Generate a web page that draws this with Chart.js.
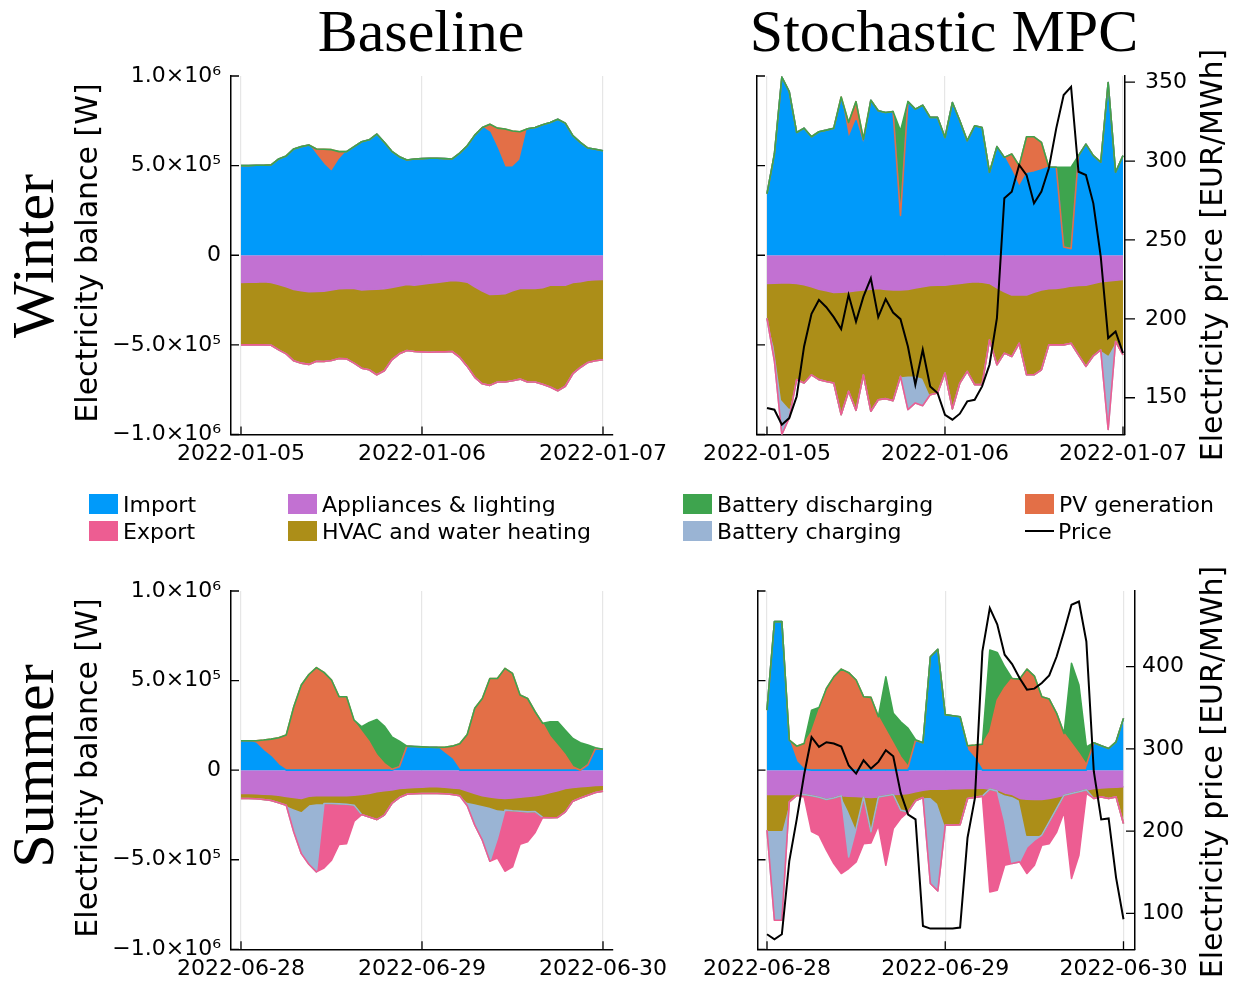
<!DOCTYPE html>
<html>
<head>
<meta charset="utf-8">
<script src="https://cdn.jsdelivr.net/npm/chart.js@4.4.1/dist/chart.umd.min.js"></script>
<style>
  body { margin: 0; width: 1238px; height: 987px; overflow: hidden; background: #fff; position: relative; font-family: "DejaVu Sans", sans-serif; color: #000; }
  canvas { position: absolute; }
  .title { position: absolute; top: 1px; font-family: "Liberation Serif", serif; font-size: 60px; line-height: 60px; white-space: nowrap; transform: translateX(-50%); }
  .row { position: absolute; font-family: "Liberation Serif", serif; font-size: 60px; line-height: 60px; white-space: nowrap; transform: translate(-50%, -50%) rotate(-90deg); }
  .axt { position: absolute; font-size: 30px; line-height: 30px; white-space: nowrap; transform: translate(-50%, -50%) rotate(-90deg); }
  .sw { position: absolute; width: 29px; height: 20px; }
  .lt { position: absolute; font-size: 22px; line-height: 22px; white-space: nowrap; }
</style>
</head>
<body>
<canvas id="wb"></canvas>
<canvas id="wm"></canvas>
<canvas id="sb"></canvas>
<canvas id="sm"></canvas>

<div class="title" style="left:421px">Baseline</div>
<div class="title" style="left:944px">Stochastic MPC</div>
<div class="row" style="left:33px; top:256px">Winter</div>
<div class="row" style="left:33px; top:766px">Summer</div>
<div class="axt" style="left:87px; top:253px">Electricity balance [W]</div>
<div class="axt" style="left:87px; top:768px">Electricity balance [W]</div>
<div class="axt" style="left:1212px; top:255px">Electricity price [EUR/MWh]</div>
<div class="axt" style="left:1212px; top:772px">Electricity price [EUR/MWh]</div>

<div id="legend"></div>

<script>
// x positions (hour of the 2-day window) and tick labels
const hours = Array.from({ length: 49 }, (_, i) => i);
const winterDates = ['2022-01-05', '2022-01-06', '2022-01-07'];
const summerDates = ['2022-06-28', '2022-06-29', '2022-06-30'];
const dateTickHours = [0, 24, 48];
const balanceTicks = [-1e6, -5e5, 0, 5e5, 1e6];
const balanceTickLabels = ['−1.0×10⁶', '−5.0×10⁵', '0', '5.0×10⁵', '1.0×10⁶'];
const winterPriceTicks = [150, 200, 250, 300, 350];
const summerPriceTicks = [100, 200, 300, 400];

// Winter, baseline (kW)
const wbImport = [500,500,502,502,504,537,554,593,606,615,559,506,465,531,578,606,633,644,676,630,580,550,531,537,539,541,541,539,537,570,611,670,713,685,594,491,491,531,706,713,728,741,759,737,667,630,598,591,583];
const wbPV = [0,0,0,0,0,0,0,0,0,0,34,85,124,47,0,0,0,0,0,0,0,0,0,0,0,0,0,0,0,0,0,0,0,46,115,213,202,158,0,0,0,0,0,0,0,0,0,0,0];
const wbDischarging = [0,0,0,0,0,0,0,0,0,0,0,0,0,0,0,0,0,0,0,0,0,0,0,0,0,0,0,0,0,0,0,0,0,0,0,0,0,0,0,0,0,0,0,0,0,0,0,0,0];
const wbAppliances = [-152,-150,-150,-148,-152,-163,-176,-191,-198,-204,-202,-200,-194,-187,-185,-185,-194,-191,-189,-187,-180,-172,-163,-167,-161,-156,-152,-146,-141,-144,-150,-176,-200,-219,-217,-215,-198,-185,-185,-185,-181,-167,-167,-167,-152,-148,-139,-137,-135];
const wbHVAC = [-348,-350,-350,-352,-350,-365,-374,-398,-404,-405,-389,-393,-393,-389,-393,-417,-436,-448,-478,-457,-403,-378,-368,-370,-378,-385,-387,-393,-396,-425,-470,-505,-517,-507,-490,-492,-502,-506,-522,-522,-539,-568,-589,-564,-509,-478,-459,-452,-448];
const wbCharging = [0,0,0,0,0,0,0,0,0,0,0,0,0,0,0,0,0,0,0,0,0,0,0,0,0,0,0,0,0,0,0,0,0,0,0,0,0,0,0,0,0,0,0,0,0,0,0,0,0];
const wbExport = [0,0,0,0,0,0,0,0,0,0,0,0,0,0,0,0,0,0,0,0,0,0,0,0,0,0,0,0,0,0,0,0,0,0,0,0,0,0,0,0,0,0,0,0,0,0,0,0,0];

// Winter, stochastic MPC (kW) and price (EUR/MWh)
const wmImport = [343,565,994,913,685,709,661,689,698,709,873,648,750,611,865,806,796,802,222,857,815,837,769,769,657,852,750,639,722,713,463,606,546,469,380,454,463,476,491,491,46,37,556,620,556,519,963,463,556];
const wmPV = [0,0,0,0,0,0,0,0,0,0,10,93,107,37,0,0,0,0,0,0,0,0,0,0,0,0,0,0,0,0,0,0,0,96,120,207,198,154,0,0,0,0,0,0,0,0,0,0,0];
const wmDischarging = [0,0,0,0,0,0,0,0,0,0,0,0,0,0,0,0,0,0,472,0,0,0,0,0,0,0,0,0,0,0,0,0,0,0,0,0,0,0,0,0,445,454,0,0,0,0,0,0,0];
const wmAppliances = [-157,-156,-154,-154,-157,-165,-176,-189,-198,-207,-206,-204,-198,-194,-189,-185,-191,-194,-194,-191,-183,-176,-169,-167,-167,-161,-157,-152,-148,-150,-157,-181,-204,-222,-222,-222,-207,-194,-187,-185,-180,-172,-169,-167,-157,-148,-143,-139,-135];
const wmHVAC = [-195,-354,-652,-698,-537,-548,-491,-505,-506,-506,-683,-555,-667,-473,-681,-621,-609,-617,-482,-481,-489,-509,-609,-602,-490,-696,-556,-496,-574,-572,-315,-430,-342,-343,-269,-445,-460,-445,-313,-315,-320,-319,-387,-453,-404,-380,-412,-342,-421];
const wmCharging = [0,-80,-194,-55,0,0,0,0,0,0,0,0,0,0,0,0,0,0,0,-189,-152,-154,0,0,0,0,0,0,0,0,0,0,0,0,0,0,0,0,0,0,0,0,0,0,0,0,-417,0,0];
const wmExport = [0,0,0,0,0,0,0,0,0,0,0,0,0,0,0,0,0,0,0,0,0,0,0,0,0,0,0,0,0,0,0,0,0,0,0,0,0,0,0,0,0,0,0,0,0,0,0,0,0];
const wmPrice = [143.5,142.4,132.9,137.1,150.8,182.5,203.2,212.0,207.4,201.1,193.5,215.2,198.3,214.1,225.7,201.1,212.5,204.0,199.8,182.5,158.2,180.4,157.2,153.0,139.2,136.1,139.9,147.7,148.7,157.2,170.9,200.4,276.4,280.6,297.5,291.1,273.2,280.6,295.4,320.7,341.8,347.0,293.2,291.1,273.2,239.4,187.8,192.0,178.3];

// Summer, baseline (kW)
const sbImport = [164,164,149,108,74,28,0,0,0,0,0,0,0,0,0,0,0,0,0,0,0,19,134,132,130,128,127,93,61,0,0,0,0,0,0,0,0,0,0,0,0,0,0,0,0,0,30,120,117];
const sbPV = [0,0,15,60,99,153,196,354,475,534,572,546,503,410,410,272,214,158,84,37,5,0,0,0,0,0,0,35,73,147,199,345,400,512,512,568,540,419,400,326,261,186,136,84,19,0,0,0,0];
const sbDischarging = [0,0,0,0,0,0,0,0,0,0,0,0,0,0,0,7,28,108,199,209,181,143,0,0,0,0,0,0,0,0,0,0,0,0,0,0,0,0,0,0,0,84,134,139,158,153,110,5,0];
const sbAppliances = [-130,-130,-132,-134,-136,-140,-147,-153,-158,-145,-143,-143,-143,-143,-143,-140,-136,-130,-121,-115,-110,-102,-99,-97,-95,-93,-93,-95,-99,-102,-117,-130,-143,-149,-155,-158,-155,-151,-147,-143,-136,-125,-115,-102,-97,-93,-89,-86,-84];
const sbHVAC = [-28,-28,-28,-30,-33,-42,-49,-61,-71,-47,-43,-43,-43,-45,-47,-56,-112,-131,-155,-136,-76,-51,-35,-35,-35,-37,-37,-37,-37,-41,-60,-56,-53,-56,-65,-65,-72,-78,-86,-88,-128,-141,-149,-131,-76,-62,-51,-39,-33];
const sbCharging = [0,0,0,0,0,0,0,-131,-237,-333,-382,0,0,0,0,0,0,0,0,0,0,0,0,0,0,0,0,0,0,0,-22,-121,-195,-303,-160,0,0,0,0,0,0,0,0,0,0,0,0,0,0];
const sbExport = [0,0,0,0,0,0,0,0,0,0,0,-360,-317,-227,-220,-89,0,0,0,0,0,0,0,0,0,0,0,0,0,0,0,0,0,0,-110,-341,-313,-184,-167,-117,0,0,0,0,0,0,0,0,0];

// Summer, stochastic MPC (kW) and price (EUR/MWh)
const smImport = [335,829,829,163,47,5,0,0,0,0,0,0,0,0,0,0,0,0,0,0,165,153,633,674,310,304,298,112,65,0,0,0,0,0,0,0,0,0,0,0,0,0,0,0,153,136,121,158,289];
const smPV = [0,0,0,5,87,144,214,335,456,521,564,544,503,410,406,298,223,149,74,19,0,0,0,0,0,0,0,24,75,145,214,391,460,512,508,564,525,410,397,317,205,149,93,30,0,0,0,0,0];
const smDischarging = [0,0,0,0,0,0,121,15,0,0,0,0,0,0,0,0,298,168,196,214,5,0,0,0,0,0,0,0,0,0,456,266,117,0,0,0,0,0,0,0,0,447,382,100,0,0,0,0,0];
const smAppliances = [-136,-136,-136,-136,-136,-136,-143,-151,-164,-155,-143,-145,-147,-150,-153,-150,-143,-136,-134,-130,-121,-112,-106,-106,-106,-104,-104,-102,-102,-99,-106,-117,-136,-145,-158,-162,-164,-164,-158,-149,-140,-130,-121,-110,-102,-99,-97,-95,-93];
const smHVAC = [-199,-199,-199,-41,-5,0,0,0,0,0,0,-82,-179,0,-192,0,0,0,-89,-103,-50,-41,-43,-80,-201,-203,-200,-56,-50,-46,0,0,0,0,-9,-201,-199,-199,-131,-65,0,0,0,0,-56,-50,-61,-54,-205];
const smCharging = [0,-503,-503,0,0,0,0,0,0,0,0,-257,0,0,0,0,0,0,0,0,0,0,-484,-488,0,0,0,0,0,0,0,0,-150,-376,-345,-65,-28,0,0,0,0,0,0,0,0,0,0,0,0];
const smExport = [0,0,0,0,0,-13,-200,-212,-283,-366,-434,-65,-186,-261,-61,-158,-388,-190,-47,0,0,0,0,0,0,0,0,0,0,0,-574,-553,-245,0,0,-149,-140,-56,-121,-131,-93,-475,-354,-20,0,0,0,0,0];
const smPrice = [74.5,68.4,74.5,163.5,214.2,268.8,314.2,302.4,308.1,306.5,302.8,279.8,270.0,286.2,276.1,284.2,298.3,291.0,246.5,220.2,214.2,84.6,81.4,81.4,81.4,81.4,82.6,191.9,240.5,418.6,471.2,451.7,414.6,403.2,386.2,372.1,373.3,380.2,389.5,412.4,442.8,475.3,479.3,430.7,272.8,214.2,215.4,143.4,92.7];

const colors = {
  imp: '#009afa', exp: '#ed5d92', app: '#c271d2', hvac: '#ac8e18',
  dis: '#3ea44e', chg: '#9ab4d4', pv: '#e36f47'
};

Chart.defaults.font.family = 'DejaVu Sans';
Chart.defaults.font.size = 22;
Chart.defaults.color = '#000';

// Legend (column-wise, two rows)
const legendItems = [
  ['Import', colors.imp, 89, 494], ['Export', colors.exp, 89, 521],
  ['Appliances & lighting', colors.app, 288, 494], ['HVAC and water heating', colors.hvac, 288, 521],
  ['Battery discharging', colors.dis, 683, 494], ['Battery charging', colors.chg, 683, 521],
  ['PV generation', colors.pv, 1025, 494]
];
const legend = document.getElementById('legend');
legendItems.forEach(([text, color, x, y]) => {
  legend.insertAdjacentHTML('beforeend',
    `<div class="sw" style="left:${x}px;top:${y}px;background:${color}"></div>` +
    `<div class="lt" style="left:${x + 34}px;top:${y}px">${text.replace('&', '&amp;')}</div>`);
});
legend.insertAdjacentHTML('beforeend',
  '<div style="position:absolute;left:1025px;top:530px;width:29px;height:2px;background:#000"></div>' +
  '<div class="lt" style="left:1058px;top:521px">Price</div>');

// stroke the top edge of each stacked area, green and pink last
const edges = {
  id: 'edges',
  afterDatasetDraw(chart, args) {
    const first = chart.data.datasets.findIndex(d => d.stack);
    if (args.index !== first) return;
    const ctx = chart.ctx, a = chart.chartArea;
    ctx.save();
    ctx.beginPath();
    ctx.rect(a.left, a.top, a.right - a.left, a.bottom - a.top);
    ctx.clip();
    ctx.lineWidth = 1.6;
    ctx.lineJoin = 'round';
    chart.data.datasets.forEach((d, i) => {
      if (!d.stack) return;
      const pts = chart.getDatasetMeta(i).data;
      ctx.strokeStyle = d.edgeColor;
      ctx.beginPath();
      pts.forEach((p, j) => j ? ctx.lineTo(p.x, p.y) : ctx.moveTo(p.x, p.y));
      ctx.stroke();
    });
    ctx.restore();
  }
};

// short tick marks on the spines
const tickMarks = {
  id: 'tickMarks',
  afterDraw(chart, args, opts) {
    const ctx = chart.ctx, a = chart.chartArea, s = chart.scales;
    ctx.save();
    ctx.strokeStyle = '#000';
    ctx.lineWidth = 1.3;
    ctx.beginPath();
    s.x.ticks.forEach(t => { const p = s.x.getPixelForValue(t.value); ctx.moveTo(p, a.bottom); ctx.lineTo(p, a.bottom - 8); });
    s.y.ticks.forEach(t => { const p = s.y.getPixelForValue(t.value); ctx.moveTo(a.left, p); ctx.lineTo(a.left + 8, p); });
    if (s.y2) {
      const d = opts.y2Out ? 10 : -9;
      s.y2.ticks.forEach(t => { const p = s.y2.getPixelForValue(t.value); ctx.moveTo(a.right, p); ctx.lineTo(a.right + d, p); });
    }
    ctx.stroke();
    ctx.restore();
  }
};

function area(label, values, color, stack, fill) {
  return {
    label, stack, fill,
    data: values.map((v, i) => ({ x: hours[i], y: v * 1000 })),
    backgroundColor: color, borderColor: 'rgba(0,0,0,0)', borderWidth: 0,
    edgeColor: color, pointRadius: 0, tension: 0, yAxisID: 'y'
  };
}

const TOP_PAD = 40;

function panel(id, box, plot, xRange, dates, s, price) {
  const cv = document.getElementById(id);
  box.y = plot.t - TOP_PAD;
  box.h = box.bottom - box.y;
  cv.width = box.w; cv.height = box.h;
  cv.style.left = box.x + 'px'; cv.style.top = box.y + 'px';
  cv.style.width = box.w + 'px'; cv.style.height = box.h + 'px';

  const datasets = [];
  if (price) {
    datasets.push({
      label: 'Price', data: price.values.map((v, i) => ({ x: hours[i], y: v })),
      borderColor: '#000', borderWidth: 2, pointRadius: 0, fill: false, tension: 0, yAxisID: 'y2'
    });
  }
  datasets.push(
    area('Import', s.imp, colors.imp, 'pos', 'origin'),
    area('PV generation', s.pv, colors.pv, 'pos', '-1'),
    area('Battery discharging', s.dis, colors.dis, 'pos', '-1'),
    area('Appliances & lighting', s.app, colors.app, 'neg', 'origin'),
    area('HVAC and water heating', s.hvac, colors.hvac, 'neg', '-1'),
    area('Battery charging', s.chg, colors.chg, 'neg', '-1'),
    area('Export', s.exp, colors.exp, 'neg', '-1')
  );

  const yWidth = plot.l - box.x;
  const xHeight = box.y + box.h - plot.b;
  const rightSpace = box.x + box.w - plot.r;

  const scales = {
    x: {
      type: 'linear', min: xRange[0], max: xRange[1],
      afterBuildTicks: sc => { sc.ticks = dateTickHours.map(v => ({ value: v })); },
      afterFit: sc => { sc.height = xHeight; },
      ticks: { autoSkip: false, maxRotation: 0, minRotation: 0, padding: 7,
               callback: v => dates[dateTickHours.indexOf(v)] },
      grid: { color: '#e6e6e6', lineWidth: 1.2, drawTicks: false },
      border: { display: true, color: '#000', width: 1.5 }
    },
    y: {
      stacked: true, min: -1e6, max: 1e6,
      afterBuildTicks: sc => { sc.ticks = balanceTicks.map(v => ({ value: v })); },
      afterFit: sc => { sc.width = yWidth; },
      ticks: { display: !price, padding: 10, callback: v => balanceTickLabels[balanceTicks.indexOf(v)] },
      grid: { drawOnChartArea: false, drawTicks: false },
      border: { display: true, color: '#000', width: 1.5 }
    }
  };
  if (price) {
    scales.y2 = {
      position: 'right', stacked: false, min: price.min, max: price.max,
      afterBuildTicks: sc => { sc.ticks = price.ticks.map(v => ({ value: v })); },
      afterFit: sc => { sc.width = rightSpace; },
      ticks: { padding: price.pad },
      grid: { drawOnChartArea: false, drawTicks: false },
      border: { display: true, color: '#000', width: 1.5 }
    };
  }

  new Chart(cv, {
    type: 'line',
    data: { datasets },
    options: {
      responsive: false, animation: false, devicePixelRatio: 1,
      layout: { padding: { top: TOP_PAD, left: 0, bottom: 0, right: price ? 0 : rightSpace } },
      plugins: { legend: { display: false }, tooltip: { enabled: false }, tickMarks: { y2Out: price ? price.out : false } },
      scales
    },
    plugins: [edges, tickMarks]
  });
}

panel('wb', { x: 100, w: 580, bottom: 482 }, { l: 231, t: 75.5, r: 613, b: 434.5 }, [-1.326, 49.326], winterDates,
  { imp: wbImport, pv: wbPV, dis: wbDischarging, app: wbAppliances, hvac: wbHVAC, chg: wbCharging, exp: wbExport });

panel('wm', { x: 670, w: 568, bottom: 482 }, { l: 757, t: 75.5, r: 1125, b: 434.5 }, [-1.348, 48.27], winterDates,
  { imp: wmImport, pv: wmPV, dis: wmDischarging, app: wmAppliances, hvac: wmHVAC, chg: wmCharging, exp: wmExport },
  { values: wmPrice, min: 126.7, max: 353.9, ticks: winterPriceTicks, pad: 20, out: true });

panel('sb', { x: 100, w: 580, bottom: 987 }, { l: 231, t: 591, r: 613, b: 949.3 }, [-1.326, 49.326], summerDates,
  { imp: sbImport, pv: sbPV, dis: sbDischarging, app: sbAppliances, hvac: sbHVAC, chg: sbCharging, exp: sbExport });

panel('sm', { x: 670, w: 568, bottom: 987 }, { l: 757.5, t: 591, r: 1135, b: 949.3 }, [-1.28, 49.55], summerDates,
  { imp: smImport, pv: smPV, dis: smDischarging, app: smAppliances, hvac: smHVAC, chg: smCharging, exp: smExport },
  { values: smPrice, min: 56.2, max: 492.1, ticks: summerPriceTicks, pad: 7, out: false });
</script>
</body>
</html>
